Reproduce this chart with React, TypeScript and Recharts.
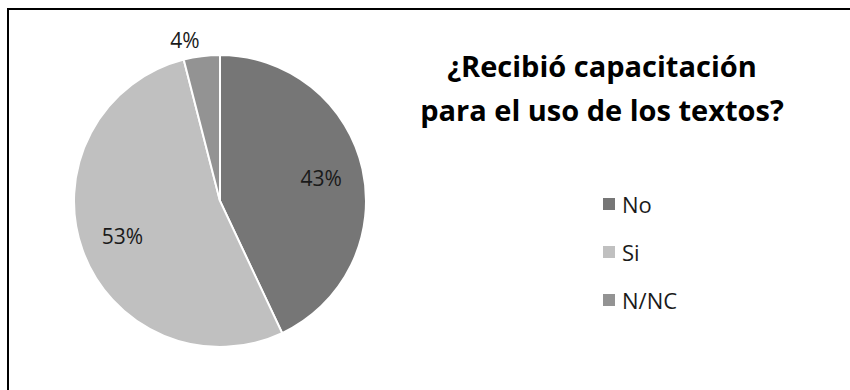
import { PieChart, Pie, Cell, Legend } from "recharts";

const categories = ["No", "Si", "N/NC"];
const shares = [43, 53, 4];
const colors = ["#767676", "#c0c0c0", "#939393"];

const data = categories.map((name, i) => ({ name, value: shares[i] }));

const RADIAN = Math.PI / 180;
const font = "'Open Sans', sans-serif";

const renderLabel = (props: any) => {
  const { cx, cy, midAngle, outerRadius, percent } = props;
  const outside = percent < 0.1;
  const r = outside ? outerRadius + 16 : outerRadius * 0.71;
  const x = cx + r * Math.cos(-midAngle * RADIAN);
  const y = cy + r * Math.sin(-midAngle * RADIAN);
  const anchor = outside ? (x < cx ? "end" : "start") : "middle";
  return (
    <text
      x={x}
      y={y}
      fill="#1a1a1a"
      fontSize={21}
      fontFamily={font}
      textAnchor={anchor}
      dominantBaseline="central"
    >
      {`${Math.round(percent * 100)}%`}
    </text>
  );
};

// keep legend rows in data order
const renderLegend = (props: any) => {
  const payload = [...(props.payload || [])].sort(
    (a: any, b: any) => categories.indexOf(a.value) - categories.indexOf(b.value)
  );
  return (
    <div>
      {payload.map((p: any) => (
        <div
          key={p.value}
          style={{
            display: "flex",
            alignItems: "center",
            height: 48,
            fontFamily: font,
            fontSize: 22,
            color: "#1a1a1a",
          }}
        >
          <span
            style={{
              width: 12,
              height: 12,
              background: p.color,
              marginRight: 7,
              display: "inline-block",
            }}
          />
          {p.value}
        </div>
      ))}
    </div>
  );
};

const App = () => {
  return (
    <div
      style={{
        position: "absolute",
        left: 0,
        top: 0,
        width: 850,
        height: 390,
        background: "#fff",
      }}
    >
      <div
        style={{
          position: "absolute",
          left: 7,
          top: 8,
          right: 0,
          bottom: 0,
          borderTop: "2px solid #000",
          borderLeft: "2px solid #000",
        }}
      />
      <div
        style={{
          position: "absolute",
          left: 402,
          top: 44,
          width: 400,
          textAlign: "center",
          fontFamily: font,
          fontWeight: 700,
          fontSize: 29,
          lineHeight: "44px",
          color: "#000",
        }}
      >
        ¿Recibió capacitación
        <br />
        para el uso de los textos?
      </div>
      <PieChart width={850} height={390} style={{ position: "absolute", left: 0, top: 0 }}>
        <Pie
          data={data}
          dataKey="value"
          nameKey="name"
          cx={215}
          cy={196}
          outerRadius={146}
          startAngle={90}
          endAngle={-270}
          stroke="#fff"
          strokeWidth={2}
          label={renderLabel}
          labelLine={false}
          isAnimationActive={false}
        >
          {data.map((d, i) => (
            <Cell key={d.name} fill={colors[i]} />
          ))}
        </Pie>
        <Legend
          layout="vertical"
          content={renderLegend}
          wrapperStyle={{ left: 603, top: 180, width: 150 }}
        />
      </PieChart>
    </div>
  );
};

export default App;
